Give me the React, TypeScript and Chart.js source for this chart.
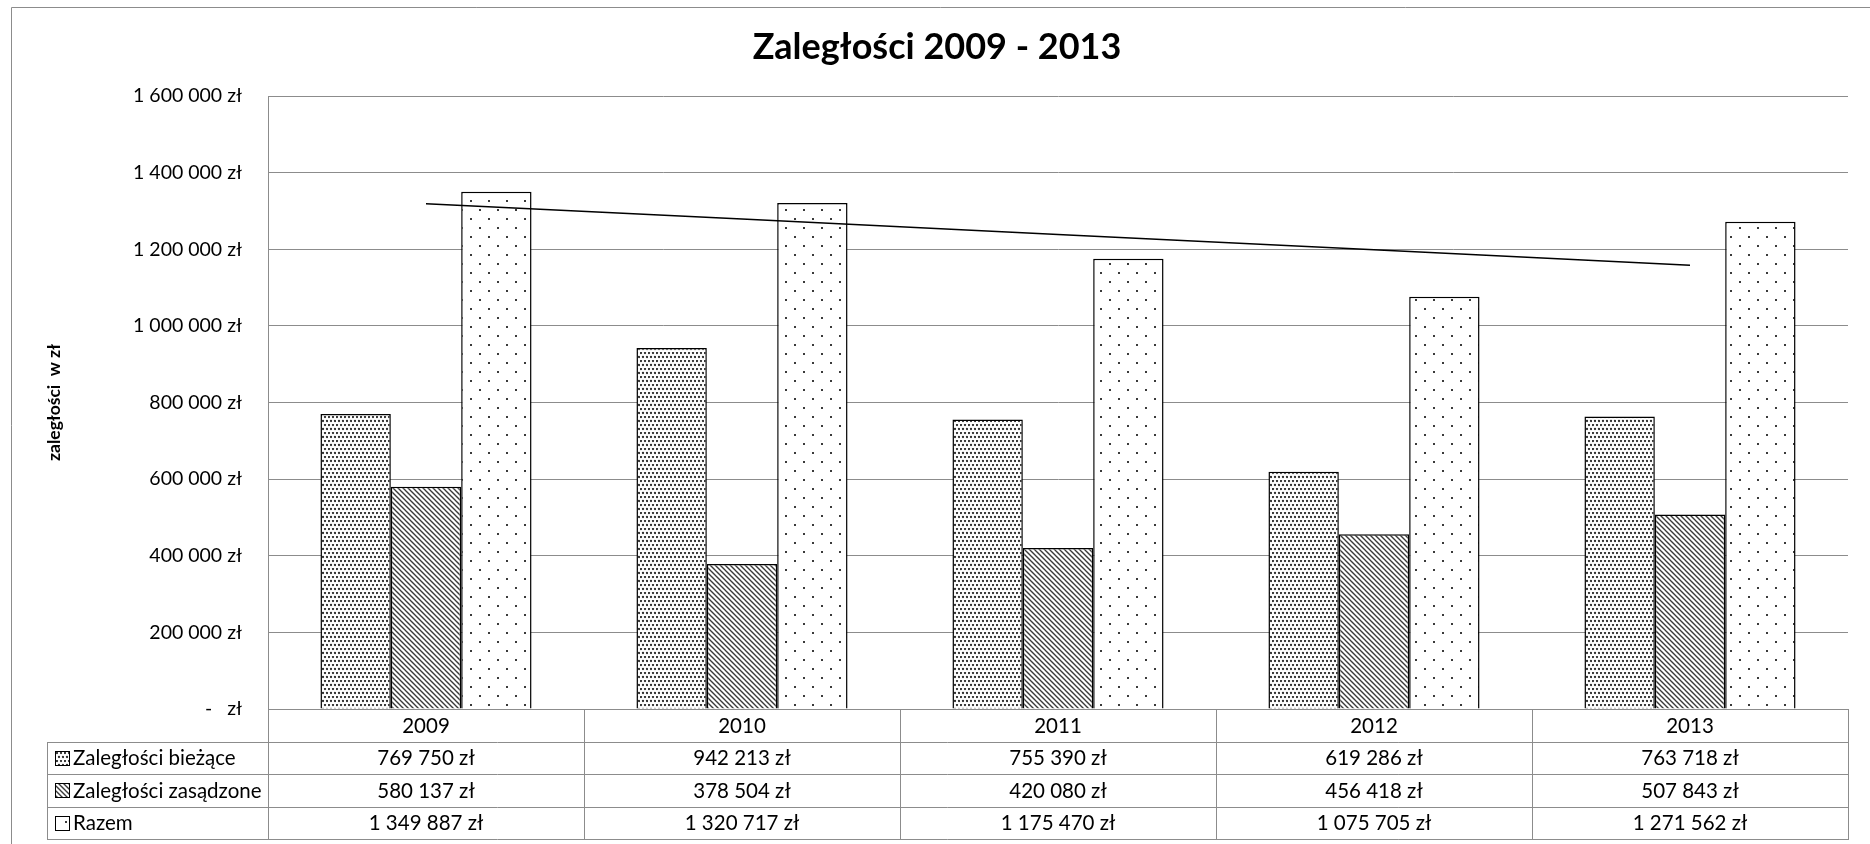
import React, { useEffect, useRef } from "react";
import { Chart, registerables } from "chart.js";

Chart.register(...registerables);

const categories = ["2009", "2010", "2011", "2012", "2013"];
const seriesNames = ["Zaległości bieżące", "Zaległości zasądzone", "Razem"];
const biezace = [769750, 942213, 755390, 619286, 763718];
const zasadzone = [580137, 378504, 420080, 456418, 507843];
const razem = [1349887, 1320717, 1175470, 1075705, 1271562];
const yMax = 1600000;
const yStep = 200000;
const titleText = "Zaległości 2009 - 2013";
const yTitleText = "zaległości  w zł";

const FONT = "Lato, 'Open Sans', sans-serif";
const GRID = "#8c8c8c";

function fmt(v: number): string {
  if (v === 0) return "-   zł";
  return String(Math.round(v)).replace(/\B(?=(\d{3})+(?!\d))/g, " ") + " zł";
}

// linear trend of the "Razem" series (Excel linear trendline)
function trend(vals: number[]): number[] {
  const n = vals.length;
  const xs = vals.map((_, i) => i + 1);
  const mx = xs.reduce((a, b) => a + b, 0) / n;
  const my = vals.reduce((a, b) => a + b, 0) / n;
  let sxy = 0, sxx = 0;
  for (let i = 0; i < n; i++) {
    sxy += (xs[i] - mx) * (vals[i] - my);
    sxx += (xs[i] - mx) * (xs[i] - mx);
  }
  const b = sxy / sxx;
  return xs.map((x) => my + b * (x - mx));
}

function makePattern(kind: number): CanvasPattern | string {
  const c = document.createElement("canvas");
  const ctx = c.getContext("2d");
  if (!ctx) return "#fff";
  if (kind === 0) {
    c.width = 8; c.height = 8;
    ctx.fillStyle = "#fff"; ctx.fillRect(0, 0, 8, 8);
    ctx.fillStyle = "#2e2e2e";
    [[1, 1], [5, 1], [3, 5], [7, 5]].forEach(([x, y]) => {
      ctx.beginPath(); ctx.arc(x, y, 1.15, 0, Math.PI * 2); ctx.fill();
    });
  } else if (kind === 1) {
    const s = 5;
    c.width = s; c.height = s;
    ctx.fillStyle = "#fff"; ctx.fillRect(0, 0, s, s);
    ctx.strokeStyle = "#3a3a3a"; ctx.lineWidth = 1.35;
    for (let k = -1; k <= 1; k++) {
      ctx.beginPath(); ctx.moveTo(k * s - 1, -1); ctx.lineTo(k * s + s + 1, s + 1); ctx.stroke();
    }
  } else {
    c.width = 18; c.height = 18;
    ctx.fillStyle = "#fff"; ctx.fillRect(0, 0, 18, 18);
    ctx.fillStyle = "#3a3a3a";
    ctx.fillRect(2, 2, 2, 2);
    ctx.fillRect(11, 11, 2, 2);
  }
  return ctx.createPattern(c, "repeat") || "#fff";
}

function makeDecor(pats: (CanvasPattern | string)[]) {
  return {
    id: "decor",
    afterDraw(chart: any) {
      const ctx = chart.ctx as CanvasRenderingContext2D;
      const ca = chart.chartArea;
      ctx.save();
      // outer frame
      ctx.strokeStyle = GRID; ctx.lineWidth = 1;
      ctx.beginPath();
      ctx.moveTo(11.5, 844); ctx.lineTo(11.5, 7.5); ctx.lineTo(1870, 7.5);
      ctx.stroke();

      // title
      ctx.fillStyle = "#000";
      ctx.font = `bold 36px ${FONT}`;
      ctx.textAlign = "center"; ctx.textBaseline = "alphabetic";
      ctx.fillText(titleText, 937, 59);

      // y title
      ctx.save();
      ctx.translate(54, (ca.top + ca.bottom) / 2);
      ctx.rotate(-Math.PI / 2);
      ctx.font = `bold 17.5px ${FONT}`;
      ctx.textAlign = "center"; ctx.textBaseline = "middle";
      ctx.fillText(yTitleText, 0, 0);
      ctx.restore();

      // data table
      const left = Math.round(ca.left);
      const right = Math.round(ca.right);
      const top = Math.round(ca.bottom);
      const legLeft = 47;
      const rowH = 32.5;
      const n = categories.length;
      const colW = (right - left) / n;
      const rows = [biezace, zasadzone, razem];
      const bottom = top + rowH * 4;

      ctx.strokeStyle = GRID; ctx.lineWidth = 1;
      ctx.beginPath();
      ctx.moveTo(left, top + 0.5); ctx.lineTo(right, top + 0.5);
      for (let r = 1; r <= 4; r++) {
        const y = Math.round(top + rowH * r) + 0.5;
        ctx.moveTo(legLeft, y); ctx.lineTo(right + 0.5, y);
      }
      ctx.moveTo(legLeft + 0.5, Math.round(top + rowH)); ctx.lineTo(legLeft + 0.5, Math.round(bottom) + 1);
      for (let i = 0; i <= n; i++) {
        const x = Math.round(left + colW * i) + 0.5;
        ctx.moveTo(x, top); ctx.lineTo(x, Math.round(bottom) + 1);
      }
      ctx.stroke();

      ctx.fillStyle = "#000";
      ctx.font = `20.5px ${FONT}`;
      ctx.textBaseline = "middle";
      ctx.textAlign = "center";
      categories.forEach((c, i) => {
        ctx.fillText(c, left + colW * (i + 0.5), top + rowH / 2 + 1);
      });
      rows.forEach((vals, r) => {
        const cy = top + rowH * (r + 1) + rowH / 2 + 1;
        ctx.fillStyle = "#000";
        ctx.textAlign = "center";
        vals.forEach((v, i) => ctx.fillText(fmt(v), left + colW * (i + 0.5), cy));
        // legend key
        const kx = 55, ks = 14, ky = Math.round(cy - ks / 2 - 1);
        ctx.fillStyle = pats[r] as any;
        ctx.fillRect(kx, ky, ks, ks);
        ctx.strokeStyle = "#000"; ctx.lineWidth = 1;
        ctx.strokeRect(kx + 0.5, ky + 0.5, ks, ks);
        ctx.fillStyle = "#000";
        ctx.textAlign = "left";
        ctx.fillText(seriesNames[r], 73, cy);
      });
      ctx.restore();
    },
  };
}

export default function App() {
  const ref = useRef<HTMLCanvasElement | null>(null);
  useEffect(() => {
    document.body.style.margin = "0";
    const canvas = ref.current;
    if (!canvas) return;
    const pats = [makePattern(0), makePattern(1), makePattern(2)];
    const chart = new Chart(canvas, {
      type: "bar",
      data: {
        labels: categories,
        datasets: [
          {
            type: "line",
            label: "trend",
            data: trend(razem),
            borderColor: "#000",
            borderWidth: 1.5,
            pointRadius: 0,
            fill: false,
            order: 0,
          } as any,
          { label: seriesNames[0], data: biezace, backgroundColor: pats[0] as any, borderColor: "#000", borderWidth: 1.5, order: 1 },
          { label: seriesNames[1], data: zasadzone, backgroundColor: pats[1] as any, borderColor: "#000", borderWidth: 1.5, order: 1 },
          { label: seriesNames[2], data: razem, backgroundColor: pats[2] as any, borderColor: "#000", borderWidth: 1.5, order: 1 },
        ],
      },
      options: {
        responsive: false,
        animation: false,
        events: [],
        datasets: { bar: { categoryPercentage: 0.668, barPercentage: 1 } },
        layout: { padding: { left: 0, top: 96, right: 22, bottom: 135 } },
        plugins: { legend: { display: false }, tooltip: { enabled: false }, title: { display: false } },
        scales: {
          x: { display: false, offset: true, grid: { display: false } },
          y: {
            min: 0,
            max: yMax,
            afterFit: (s: any) => { s.width = 268; },
            ticks: {
              stepSize: yStep,
              padding: 26,
              color: "#000",
              font: { family: FONT, size: 19.5 },
              callback: (v: any) => fmt(Number(v)),
            },
            grid: { color: GRID, lineWidth: 1, drawTicks: false },
            border: { color: GRID, width: 1 },
          },
        },
      } as any,
      plugins: [makeDecor(pats)],
    });
    return () => chart.destroy();
  }, []);
  return (
    <div style={{ position: "absolute", left: 0, top: 0, width: 1870, height: 844, background: "#fff" }}>
      <canvas ref={ref} width={1870} height={844} style={{ display: "block" }} />
    </div>
  );
}
